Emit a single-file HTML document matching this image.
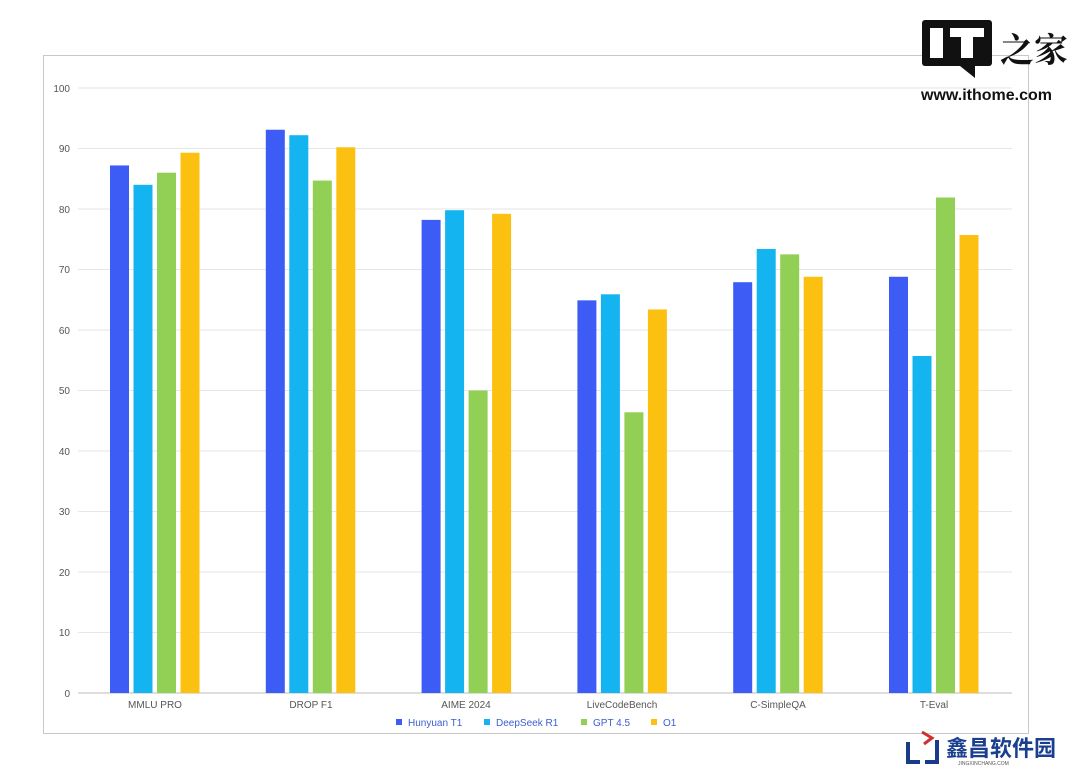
<!DOCTYPE html>
<html><head><meta charset="utf-8"><style>
body{margin:0;background:#fff;width:1080px;height:777px;overflow:hidden;font-family:"Liberation Sans","Noto Sans CJK SC",sans-serif}
</style></head><body>
<svg width="1080" height="777" xmlns="http://www.w3.org/2000/svg" font-family="Liberation Sans, Noto Sans CJK SC, sans-serif">
<rect x="43.5" y="55.5" width="985" height="678" fill="none" stroke="#c8c8c8"/>
<g stroke="#e6e6e6">
<line x1="78" x2="1012" y1="88" y2="88"/><line x1="78" x2="1012" y1="148.5" y2="148.5"/>
<line x1="78" x2="1012" y1="209" y2="209"/><line x1="78" x2="1012" y1="269.5" y2="269.5"/>
<line x1="78" x2="1012" y1="330" y2="330"/><line x1="78" x2="1012" y1="390.5" y2="390.5"/>
<line x1="78" x2="1012" y1="451" y2="451"/><line x1="78" x2="1012" y1="511.5" y2="511.5"/>
<line x1="78" x2="1012" y1="572" y2="572"/><line x1="78" x2="1012" y1="632.5" y2="632.5"/>
</g>
<line x1="78" x2="1012" y1="693" y2="693" stroke="#bbb"/>
<g font-size="10" fill="#555" text-anchor="end">
<text x="70" y="92">100</text><text x="70" y="152">90</text><text x="70" y="213">80</text><text x="70" y="273">70</text><text x="70" y="334">60</text><text x="70" y="394">50</text><text x="70" y="455">40</text><text x="70" y="515">30</text><text x="70" y="576">20</text><text x="70" y="636">10</text><text x="70" y="697">0</text>
</g>
<g id="bars"></g>
<g font-size="10" fill="#555" text-anchor="middle">
<text x="155" y="708">MMLU PRO</text><text x="311" y="708">DROP F1</text><text x="466" y="708">AIME 2024</text><text x="622" y="708">LiveCodeBench</text><text x="778" y="708">C-SimpleQA</text><text x="934" y="708">T-Eval</text>
</g>
<g font-size="10" fill="#3a5fd0">
<rect x="396" y="719" width="6" height="6" fill="#3d5cf5"/><text x="408" y="726">Hunyuan T1</text>
<rect x="484" y="719" width="6" height="6" fill="#14b4f0"/><text x="496" y="726">DeepSeek R1</text>
<rect x="581" y="719" width="6" height="6" fill="#92cf55"/><text x="593" y="726">GPT 4.5</text>
<rect x="651" y="719" width="6" height="6" fill="#fcc010"/><text x="663" y="726">O1</text>
</g>
<rect x="922" y="20" width="70" height="46" rx="3" fill="#111"/>
<polygon points="960,66 975,66 975,78" fill="#111"/>
<rect x="930" y="28" width="13" height="30" fill="#fff"/>
<rect x="950" y="28" width="34" height="9" fill="#fff"/><rect x="961" y="28" width="12" height="30" fill="#fff"/>
<text x="1000" y="62" font-size="34" font-family="Noto Serif CJK SC, serif" font-weight="bold" fill="#111">之家</text>
<text x="921" y="100" font-size="16" font-weight="bold" fill="#111">www.ithome.com</text>
<path d="M908 742 v20 h12 M925 762 h12 v-22" stroke="#1a3a8a" stroke-width="4" fill="none"/>
<path d="M922 732 l10 6 -8 6" stroke="#d03030" stroke-width="3" fill="none"/>
<text x="946" y="756" font-size="22" font-weight="bold" fill="#1a3f8f">鑫昌软件园</text>
<text x="958" y="765" font-size="5" fill="#555">JINGXINCHANG.COM</text>
</svg>
<script>
const vals=[[87.2,84,86,89.3],[93.1,92.2,84.7,90.2],[78.2,79.8,50,79.2],[64.9,65.9,46.4,63.4],[67.9,73.4,72.5,68.8],[68.8,55.7,81.9,75.7]];
const cols=["#3d5cf5","#14b4f0","#92cf55","#fcc010"];
let s="";
vals.forEach((g,i)=>g.forEach((v,j)=>{const x=110+i*155.8+j*23.5,h=v*6.05;s+=`<rect x="${x}" y="${693-h}" width="19" height="${h}" fill="${cols[j]}"/>`;}));
document.getElementById("bars").innerHTML=s;
</script>
</body></html>
